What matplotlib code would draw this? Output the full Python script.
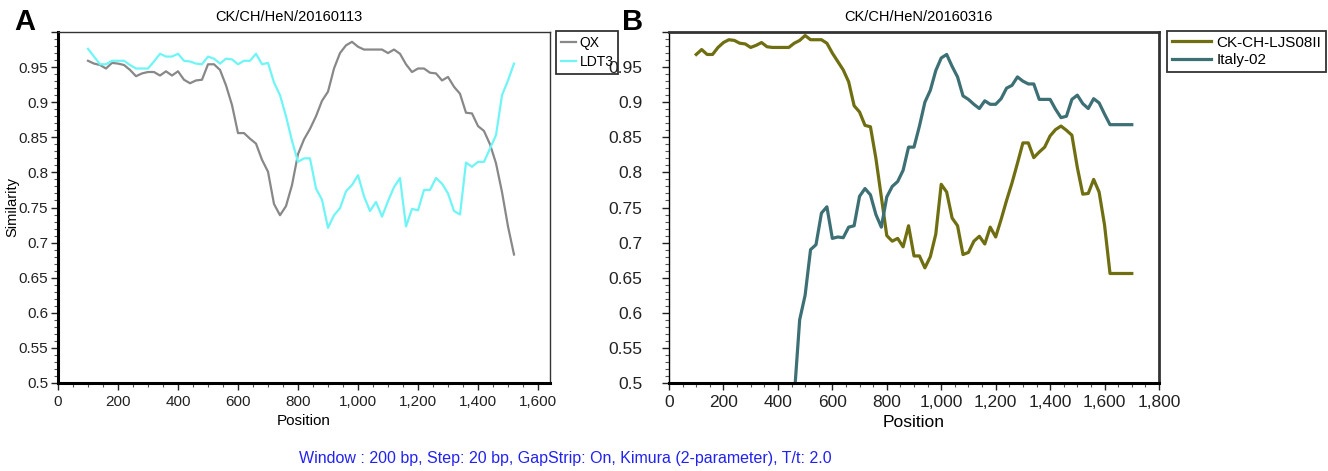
import matplotlib
matplotlib.use("Agg")
from matplotlib import pyplot as plt
from matplotlib.ticker import MultipleLocator, FuncFormatter

plt.rcParams['font.family'] = ['Liberation Sans Narrow', 'DejaVu Sans Condensed', 'Liberation Sans', 'DejaVu Sans']

# panel A: CK/CH/HeN/20160113, positions 100..1520 step 20
pos_a = list(range(100, 1521, 20))
qx = [0.959, 0.955, 0.953, 0.948, 0.956, 0.955, 0.953, 0.946, 0.937, 0.941,
      0.943, 0.943, 0.938, 0.944, 0.938, 0.944, 0.932, 0.927, 0.931, 0.932,
      0.954, 0.954, 0.946, 0.924, 0.896, 0.856, 0.856, 0.848, 0.841, 0.818,
      0.801, 0.755, 0.739, 0.752, 0.782, 0.826, 0.847, 0.862, 0.880, 0.902,
      0.915, 0.948, 0.970, 0.981, 0.986, 0.979, 0.975, 0.975, 0.975, 0.975,
      0.970, 0.975, 0.969, 0.954, 0.943, 0.948, 0.948, 0.942, 0.941, 0.931,
      0.936, 0.922, 0.912, 0.885, 0.884, 0.866, 0.859, 0.840, 0.813, 0.772,
      0.723, 0.683]
ldt3 = [0.976, 0.965, 0.954, 0.954, 0.959, 0.959, 0.959, 0.953, 0.948, 0.948,
        0.948, 0.958, 0.969, 0.965, 0.965, 0.969, 0.959, 0.958, 0.955, 0.954,
        0.965, 0.962, 0.955, 0.962, 0.961, 0.954, 0.959, 0.959, 0.969, 0.954,
        0.956, 0.928, 0.910, 0.880, 0.845, 0.815, 0.820, 0.820, 0.777, 0.761,
        0.721, 0.739, 0.749, 0.773, 0.782, 0.796, 0.766, 0.745, 0.758, 0.737,
        0.759, 0.779, 0.792, 0.723, 0.748, 0.746, 0.775, 0.775, 0.792, 0.784,
        0.770, 0.745, 0.740, 0.814, 0.808, 0.815, 0.815, 0.834, 0.853, 0.910,
        0.931, 0.955]

# panel B: CK/CH/HeN/20160316
pos_b = list(range(100, 1701, 20))
ljs = [0.968, 0.975, 0.968, 0.968, 0.978, 0.985, 0.989, 0.988, 0.984, 0.983,
       0.978, 0.981, 0.985, 0.979, 0.978, 0.978, 0.978, 0.978, 0.984, 0.988,
       0.995, 0.989, 0.989, 0.989, 0.984, 0.970, 0.958, 0.946, 0.929, 0.895,
       0.886, 0.867, 0.865, 0.820, 0.765, 0.710, 0.702, 0.706, 0.694, 0.724,
       0.681, 0.681, 0.664, 0.680, 0.712, 0.783, 0.772, 0.735, 0.724, 0.683,
       0.686, 0.702, 0.709, 0.698, 0.722, 0.708, 0.733, 0.760, 0.785, 0.813,
       0.842, 0.842, 0.821, 0.829, 0.836, 0.852, 0.861, 0.866, 0.860, 0.853,
       0.807, 0.769, 0.770, 0.790, 0.772, 0.725, 0.656, 0.656, 0.656, 0.656,
       0.656]
pos_it = list(range(460, 1701, 20))
italy = [0.480, 0.590, 0.625, 0.690, 0.697, 0.742, 0.751, 0.706, 0.708, 0.707,
         0.722, 0.724, 0.766, 0.777, 0.768, 0.740, 0.722, 0.765, 0.780, 0.787,
         0.803, 0.836, 0.836, 0.866, 0.900, 0.917, 0.945, 0.963, 0.968, 0.951,
         0.936, 0.909, 0.904, 0.897, 0.891, 0.902, 0.897, 0.897, 0.905, 0.920,
         0.924, 0.936, 0.930, 0.926, 0.926, 0.904, 0.904, 0.904, 0.890, 0.878,
         0.880, 0.904, 0.910, 0.898, 0.891, 0.905, 0.899, 0.883, 0.868, 0.868,
         0.868, 0.868, 0.868]

W, H = 1328, 471
fig = plt.figure(figsize=(W / 100, H / 100), dpi=100)

def px(x0, y0, x1, y1):
    return [x0 / W, 1 - y1 / H, (x1 - x0) / W, (y1 - y0) / H]

def style(ax, xmax, fs, pad_y, thin_top=True):
    ax.set_xlim(0, xmax)
    ax.set_ylim(0.5, 1.0)
    ax.xaxis.set_major_locator(MultipleLocator(200))
    ax.xaxis.set_minor_locator(MultipleLocator(50))
    ax.yaxis.set_major_locator(MultipleLocator(0.05))
    ax.yaxis.set_minor_locator(MultipleLocator(0.01))
    ax.xaxis.set_major_formatter(FuncFormatter(lambda v, p: f"{v:,.0f}"))
    ax.yaxis.set_major_formatter(FuncFormatter(lambda v, p: f"{v:.2f}".rstrip('0').rstrip('.') if v < 0.99 else ""))
    ax.tick_params(which='major', direction='out', length=5, width=1, labelsize=fs, colors='#222222')
    ax.tick_params(axis='y', which='major', pad=pad_y)
    ax.tick_params(which='minor', direction='out', length=3, width=0.8, colors='#555555')
    for s in ['left', 'bottom']:
        ax.spines[s].set_linewidth(2.2)
        ax.spines[s].set_color('black')
    for s in ['top', 'right']:
        ax.spines[s].set_linewidth(1.0 if thin_top else 2.0)
        ax.spines[s].set_color('#333333')
    ax.set_xlabel("Position", fontsize=fs, labelpad=4)

# panel A
ax1 = fig.add_axes(px(58, 32, 550, 383))
ax1.plot(pos_a, qx, color='#888888', lw=1.6, label='QX')
ax1.plot(pos_a, ldt3, color='#6ff5f5', lw=1.6, label='LDT3')
style(ax1, 1640, 11, 2)
ax1.set_title("CK/CH/HeN/20160113", fontsize=10.5, x=0.47, pad=8)
leg1 = ax1.legend(loc='upper left', bbox_to_anchor=(556 / W, 1 - 31 / H), bbox_transform=fig.transFigure,
                  fontsize=10, frameon=True, fancybox=False, handlelength=1.1, handletextpad=0.25,
                  borderpad=0.35, labelspacing=0.35, borderaxespad=0)
leg1.get_frame().set_edgecolor('black')
leg1.get_frame().set_linewidth(1.3)
fig.text(12 / W, 1 - 207 / H, "Similarity", fontsize=10.5, rotation=90, ha='center', va='center',
         family=['Liberation Sans', 'DejaVu Sans'])

# panel B
ax2 = fig.add_axes(px(669, 32, 1159, 383))
ax2.plot(pos_b, ljs, color='#6f6f12', lw=2.3, label='CK-CH-LJS08II')
ax2.plot(pos_it, italy, color='#3d7075', lw=2.3, label='Italy-02')
style(ax2, 1800, 12.5, 14, thin_top=False)
ax2.spines['left'].set_linewidth(1.0)
ax2.set_title("CK/CH/HeN/20160316", fontsize=10.5, x=0.51, pad=8)
leg2 = ax2.legend(loc='upper left', bbox_to_anchor=(1167 / W, 1 - 31 / H), bbox_transform=fig.transFigure,
                  fontsize=11, frameon=True, fancybox=False, handlelength=2.6, handletextpad=0.35,
                  borderpad=0.3, labelspacing=0.25, borderaxespad=0)
leg2.get_frame().set_edgecolor('black')
leg2.get_frame().set_linewidth(1.3)

fig.text(25 / W, 1 - 22 / H, "A", fontsize=21, fontweight='bold', ha='center', va='center',
         family=['Liberation Sans', 'DejaVu Sans'])
fig.text(633 / W, 1 - 22 / H, "B", fontsize=21, fontweight='bold', ha='center', va='center',
         family=['Liberation Sans', 'DejaVu Sans'])
fig.text(565 / W, 1 - 458 / H, "Window : 200 bp, Step: 20 bp, GapStrip: On, Kimura (2-parameter), T/t: 2.0",
         fontsize=11.5, color='#2222ee', ha='center', va='center')

plt.savefig("out.png", dpi=100)
